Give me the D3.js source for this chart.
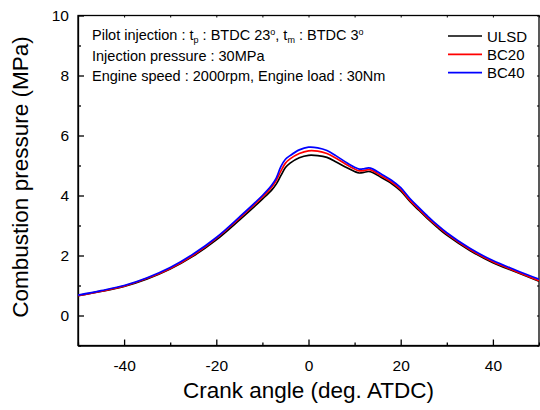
<!DOCTYPE html>
<html>
<head>
<meta charset="utf-8">
<title>Combustion pressure</title>
<script src="https://cdnjs.cloudflare.com/ajax/libs/d3/7.8.5/d3.min.js"></script>
<style>
body { margin: 0; background: #fff; }
svg { display: block; font-family: "Liberation Sans", Arial, sans-serif; }
.axis path, .axis line { stroke: #000; }
</style>
</head>
<body>
<script>

// crank angle (deg. ATDC)
var angles = [-50, -45, -40, -35, -30, -25, -20, -15, -10, -8, -7, -6, -5, -4, -2, 0, 2, 4, 6, 8, 10, 11, 12, 13, 14, 16, 18, 20, 22, 24, 26, 28, 30, 35, 40, 45, 50];

// combustion pressure (MPa)
var ulsd = [0.66, 0.80, 0.97, 1.22, 1.55, 1.98, 2.52, 3.18, 3.88, 4.18, 4.38, 4.66, 4.93, 5.08, 5.26, 5.34, 5.33, 5.27, 5.12, 4.95, 4.80, 4.75, 4.77, 4.80, 4.76, 4.58, 4.40, 4.15, 3.80, 3.50, 3.20, 2.93, 2.68, 2.17, 1.76, 1.45, 1.14];
var bc20 = [0.66, 0.81, 0.98, 1.24, 1.57, 2.01, 2.57, 3.24, 3.95, 4.28, 4.50, 4.81, 5.08, 5.22, 5.40, 5.49, 5.48, 5.40, 5.24, 5.05, 4.88, 4.82, 4.83, 4.86, 4.82, 4.63, 4.45, 4.20, 3.84, 3.54, 3.24, 2.97, 2.72, 2.20, 1.79, 1.47, 1.16];
var bc40 = [0.68, 0.83, 1.00, 1.26, 1.60, 2.05, 2.60, 3.28, 4.00, 4.34, 4.58, 4.96, 5.21, 5.33, 5.52, 5.61, 5.59, 5.50, 5.32, 5.12, 4.94, 4.88, 4.89, 4.92, 4.88, 4.69, 4.51, 4.26, 3.90, 3.59, 3.29, 3.01, 2.76, 2.24, 1.83, 1.51, 1.21];

var seriesNames = ["ULSD", "BC20", "BC40"];
var seriesColors = ["#000000", "#ff0000", "#0000ff"];
var seriesValues = [ulsd, bc20, bc40];

var xTicks = [-40, -20, 0, 20, 40];
var xMinor = [-50, -30, -10, 10, 30, 50];
var yTicks = [0, 2, 4, 6, 8, 10];
var yMinor = [-1, 1, 3, 5, 7, 9];

var width = 540, height = 410;
var margin = {left: 78, right: 1, top: 15.5, bottom: 64.5};

var svg = d3.select("body").append("svg")
  .attr("width", width)
  .attr("height", height);

var x = d3.scaleLinear().domain([-50, 50]).range([margin.left, width - margin.right]);
var y = d3.scaleLinear().domain([-1, 10]).range([height - margin.bottom, margin.top]);

// plain hyphen minus like the original
var fmt = function(d) { return String(d); };

// frame
svg.append("rect")
  .attr("x", x(-50)).attr("y", y(10))
  .attr("width", x(50) - x(-50)).attr("height", y(-1) - y(10))
  .attr("fill", "none").attr("stroke", "#000").attr("stroke-width", 1.3);

// bottom axis
var gx = svg.append("g").attr("class", "axis")
  .attr("transform", "translate(0," + y(-1) + ")")
  .call(d3.axisBottom(x).tickValues(xTicks).tickFormat(fmt).tickSizeInner(-6).tickSizeOuter(0).tickPadding(14));
gx.selectAll("text").style("font-size", "15.5px").attr("fill", "#000");
gx.select(".domain").attr("stroke-width", 1.3);
gx.selectAll(".tick line").attr("stroke-width", 1.3);

svg.append("g").attr("class", "axis")
  .attr("transform", "translate(0," + y(-1) + ")")
  .call(d3.axisBottom(x).tickValues(xMinor).tickSizeInner(-3).tickSizeOuter(0).tickFormat(""))
  .call(function(g) { g.select(".domain").remove(); g.selectAll(".tick line").attr("stroke-width", 1.3); });

// left axis
var gy = svg.append("g").attr("class", "axis")
  .attr("transform", "translate(" + x(-50) + ",0)")
  .call(d3.axisLeft(y).tickValues(yTicks).tickFormat(fmt).tickSizeInner(-6).tickSizeOuter(0).tickPadding(9));
gy.selectAll("text").style("font-size", "15.5px").attr("fill", "#000");
gy.select(".domain").attr("stroke-width", 1.3);
gy.selectAll(".tick line").attr("stroke-width", 1.3);

svg.append("g").attr("class", "axis")
  .attr("transform", "translate(" + x(-50) + ",0)")
  .call(d3.axisLeft(y).tickValues(yMinor).tickSizeInner(-3).tickSizeOuter(0).tickFormat(""))
  .call(function(g) { g.select(".domain").remove(); g.selectAll(".tick line").attr("stroke-width", 1.3); });

// mirror ticks on top and right
svg.append("g").attr("class", "axis")
  .attr("transform", "translate(0," + y(10) + ")")
  .call(d3.axisTop(x).tickValues(xTicks.concat(xMinor)).tickSizeInner(-2).tickSizeOuter(0).tickFormat(""))
  .call(function(g) { g.select(".domain").remove(); });

svg.append("g").attr("class", "axis")
  .attr("transform", "translate(" + x(50) + ",0)")
  .call(d3.axisRight(y).tickValues(yTicks.concat(yMinor)).tickSizeInner(-2).tickSizeOuter(0).tickFormat(""))
  .call(function(g) { g.select(".domain").remove(); });

// axis titles
svg.append("text")
  .attr("x", (x(-50) + x(50)) / 2).attr("y", 398)
  .attr("text-anchor", "middle")
  .style("font-size", "22.5px")
  .text("Crank angle (deg. ATDC)");

svg.append("text")
  .attr("transform", "translate(28,177) rotate(-90)")
  .attr("text-anchor", "middle")
  .style("font-size", "22.5px")
  .text("Combustion pressure (MPa)");

// curves
var line = d3.line()
  .x(function(d) { return x(d[0]); })
  .y(function(d) { return y(d[1]); })
  .curve(d3.curveCatmullRom.alpha(0.5));

svg.append("clipPath").attr("id", "plotclip")
  .append("rect")
  .attr("x", x(-50)).attr("y", y(10))
  .attr("width", x(50) - x(-50)).attr("height", y(-1) - y(10));

seriesValues.forEach(function(vals, i) {
  svg.append("path")
    .datum(angles.map(function(a, j) { return [a, vals[j]]; }))
    .attr("clip-path", "url(#plotclip)")
    .attr("fill", "none")
    .attr("stroke", seriesColors[i])
    .attr("stroke-width", 1.7)
    .attr("d", line);
});

// annotation
var note = svg.append("g").style("font-size", "14.5px");
var t1 = note.append("text").attr("x", 92).attr("y", 40);
t1.append("tspan").text("Pilot injection : t");
t1.append("tspan").attr("baseline-shift", "-30%").style("font-size", "9px").text("p");
t1.append("tspan").text(" : BTDC 23");
t1.append("tspan").attr("baseline-shift", "55%").style("font-size", "9px").text("o");
t1.append("tspan").text(", t");
t1.append("tspan").attr("baseline-shift", "-30%").style("font-size", "9px").text("m");
t1.append("tspan").text(" : BTDC 3");
t1.append("tspan").attr("baseline-shift", "55%").style("font-size", "9px").text("o");

note.append("text").attr("x", 92).attr("y", 60.5).text("Injection pressure : 30MPa");
note.append("text").attr("x", 92).attr("y", 81).text("Engine speed : 2000rpm, Engine load : 30Nm");

// legend
var legend = svg.append("g");
seriesNames.forEach(function(name, i) {
  var ly = 36 + i * 18.3;
  legend.append("line")
    .attr("x1", 448).attr("x2", 482)
    .attr("y1", ly).attr("y2", ly)
    .attr("stroke", seriesColors[i]).attr("stroke-width", 1.7);
  legend.append("text")
    .attr("x", 487).attr("y", ly + 5.5)
    .style("font-size", "15px")
    .text(name);
});

</script>
</body>
</html>
